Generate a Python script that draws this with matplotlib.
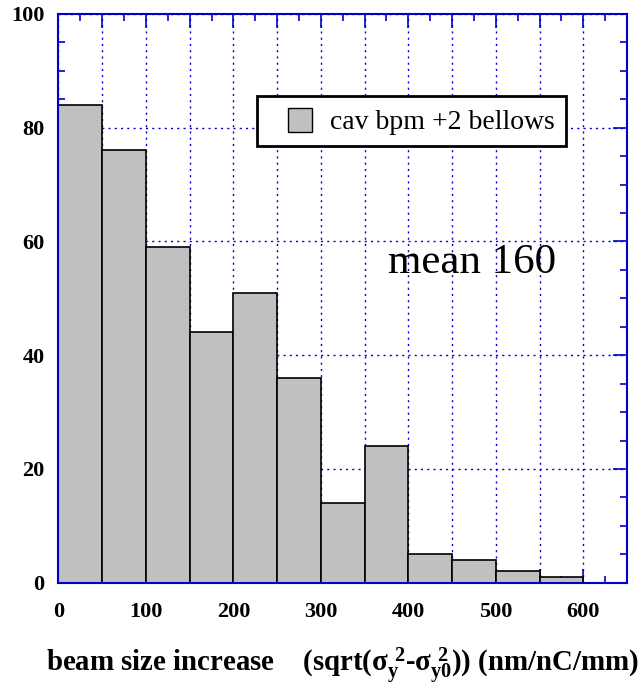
import numpy as np
import matplotlib
matplotlib.use('Agg')
import matplotlib.pyplot as plt
from matplotlib.ticker import MultipleLocator, FuncFormatter
from matplotlib.patches import Patch, Rectangle
from matplotlib.legend_handler import HandlerPatch

plt.rcParams['font.family'] = ['Liberation Serif', 'DejaVu Serif']
plt.rcParams['mathtext.fontset'] = 'custom'
plt.rcParams['mathtext.rm'] = 'Liberation Serif:bold'
plt.rcParams['mathtext.it'] = 'Liberation Serif:bold'
plt.rcParams['mathtext.bf'] = 'Liberation Serif:bold'

# histogram bins (left edges, width 50) and counts
bin_edges = [0, 50, 100, 150, 200, 250, 300, 350, 400, 450, 500, 550]
counts = [84, 76, 59, 44, 51, 36, 14, 24, 5, 4, 2, 1]
bin_width = 50
mean_value = 160

blue = '#0000cc'


def square_patch(legend, orig_handle, xdescent, ydescent, width, height, fontsize):
    # square swatch pushed to the right end of the handle area
    return Rectangle((-xdescent + width - height, -ydescent), height, height)


fig = plt.figure(figsize=(6.42, 6.95), dpi=100)
ax = fig.add_axes([0.0911, 0.1616, 0.8855, 0.8183])

ax.bar(bin_edges, counts, width=bin_width, align='edge', color='#c0c0c0',
       edgecolor='black', linewidth=1.2, zorder=3)

ax.set_xlim(0, 650)
ax.set_ylim(0, 100)

ax.xaxis.set_major_locator(MultipleLocator(50))
ax.xaxis.set_minor_locator(MultipleLocator(25))
ax.xaxis.set_major_formatter(FuncFormatter(lambda v, p: '%d' % v if v % 100 == 0 else ''))
ax.yaxis.set_major_locator(MultipleLocator(20))
ax.yaxis.set_minor_locator(MultipleLocator(5))

ax.grid(True, which='major', color=blue, linestyle=(0, (1.5, 3)), linewidth=1.0, zorder=1)
ax.set_axisbelow(True)

ax.tick_params(which='both', direction='in', top=True, right=True, color=blue, width=1.2)
ax.tick_params(which='major', length=10)
ax.tick_params(which='minor', length=5)
ax.tick_params(axis='x', which='major', pad=14, labelsize=16)
ax.tick_params(axis='y', which='major', pad=10, labelsize=16)
for lbl in ax.get_xticklabels() + ax.get_yticklabels():
    lbl.set_fontweight('bold')

for s in ax.spines.values():
    s.set_color(blue)
    s.set_linewidth(1.5)
    s.set_zorder(4)

swatch = Patch(facecolor='#c0c0c0', edgecolor='black', linewidth=1.0,
               label='cav bpm +2 bellows')
leg = ax.legend(handles=[swatch], handler_map={Patch: HandlerPatch(patch_func=square_patch)},
                loc='upper left', bbox_to_anchor=(0.349, 0.855), fontsize=20,
                fancybox=False, framealpha=1, edgecolor='black',
                handlelength=1.58, handleheight=0.95, handletextpad=0.65,
                borderpad=0.4, borderaxespad=0)
leg.get_frame().set_linewidth(2.0)
leg.set_zorder(5)

ax.text(377, 54.5, 'mean %d' % mean_value, fontsize=31, ha='left', va='baseline', zorder=5)

fig.text(0.533, 0.033,
         r'beam size increase    (sqrt($\sigma_y^{\ 2}$-$\sigma_{y0}^{\ 2}$)) (nm/nC/mm)',
         fontsize=20.8, fontweight='bold', ha='center', va='baseline')

fig.savefig('out.png', dpi=100)
